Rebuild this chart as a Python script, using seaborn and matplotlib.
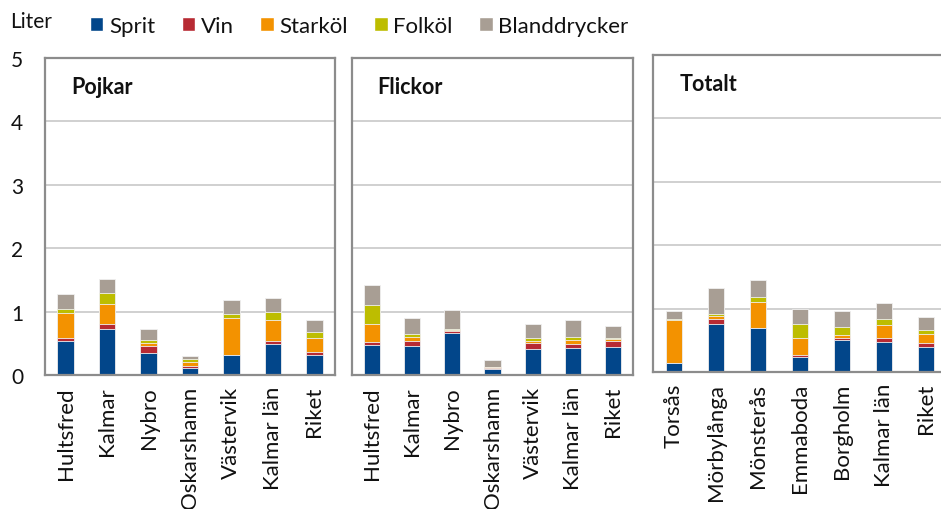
import numpy as np
import pandas as pd
import matplotlib
matplotlib.use("Agg")
import matplotlib.pyplot as plt
from matplotlib.patches import Patch
import seaborn as sns

# categories per panel
pojkar_orter = ["Hultsfred", "Kalmar", "Nybro", "Oskarshamn", "Västervik", "Kalmar län", "Riket"]
flickor_orter = ["Hultsfred", "Kalmar", "Nybro", "Oskarshamn", "Västervik", "Kalmar län", "Riket"]
totalt_orter = ["Torsås", "Mörbylånga", "Mönsterås", "Emmaboda", "Borgholm", "Kalmar län", "Riket"]

drycker = ["Sprit", "Vin", "Starköl", "Folköl", "Blanddrycker"]

# liter per drink type
pojkar_sprit = [0.54, 0.73, 0.34, 0.11, 0.31, 0.49, 0.32]
pojkar_vin = [0.04, 0.08, 0.11, 0.03, 0.01, 0.04, 0.04]
pojkar_stark = [0.40, 0.31, 0.06, 0.07, 0.58, 0.34, 0.23]
pojkar_folk = [0.06, 0.17, 0.04, 0.05, 0.06, 0.13, 0.09]
pojkar_bland = [0.23, 0.23, 0.17, 0.04, 0.23, 0.21, 0.18]

flickor_sprit = [0.48, 0.45, 0.66, 0.09, 0.41, 0.43, 0.44]
flickor_vin = [0.04, 0.08, 0.04, 0.02, 0.09, 0.06, 0.09]
flickor_stark = [0.29, 0.07, 0.01, 0.01, 0.04, 0.06, 0.03]
flickor_folk = [0.30, 0.04, 0.01, 0.00, 0.04, 0.05, 0.03]
flickor_bland = [0.31, 0.26, 0.30, 0.12, 0.23, 0.27, 0.19]

totalt_sprit = [0.14, 0.75, 0.69, 0.24, 0.51, 0.48, 0.40]
totalt_vin = [0.00, 0.08, 0.01, 0.03, 0.02, 0.05, 0.05]
totalt_stark = [0.68, 0.06, 0.41, 0.27, 0.05, 0.21, 0.15]
totalt_folk = [0.01, 0.03, 0.07, 0.21, 0.13, 0.09, 0.06]
totalt_bland = [0.14, 0.41, 0.27, 0.24, 0.26, 0.26, 0.21]

farger = ["#02468a", "#b72a33", "#f39200", "#bdbd00", "#a89e94"]

sns.set_style("white")
plt.rcParams['font.family'] = ['Lato', 'DejaVu Sans']
plt.rcParams['text.color'] = '#111111'

fig = plt.figure(figsize=(9.41, 5.1), dpi=100)
W, H = 941, 510


def panel(left, top, bottom, width, orter, serier, titel, ylabels, right=True):
    ax = fig.add_axes([left / W, (H - bottom) / H, width / W, (bottom - top) / H])
    df = pd.DataFrame(dict(zip(drycker, serier)), index=orter)
    cum = df.cumsum(axis=1)
    # draw tallest cumulative first so smaller ones overlay it
    for i in range(len(drycker) - 1, -1, -1):
        d = pd.DataFrame({"ort": orter, "v": cum[drycker[i]].values})
        sns.barplot(data=d, x="ort", y="v", color=farger[i], ax=ax, width=0.4,
                    saturation=1, edgecolor="#f0f0f0", linewidth=0.6, order=orter)
    ax.set_ylim(0, 5)
    ax.set_xlim(-0.5, 6.5)
    ax.set_yticks(range(6))
    for y in range(1, 5):
        ax.axhline(y, color="#c8c8c8", lw=1.2, zorder=0)
    ax.set_xlabel("")
    ax.set_ylabel("")
    ax.tick_params(axis="x", rotation=90, labelsize=16, length=0, pad=8,
                   labelcolor="#111111")
    ax.tick_params(axis="y", labelsize=15, length=0, pad=20, labelcolor="#111111")
    for lab in ax.get_yticklabels():
        lab.set_horizontalalignment("center")
    if not ylabels:
        ax.set_yticklabels([])
    for s in ax.spines.values():
        s.set_color("#8c8c8c")
        s.set_linewidth(1.6)
    ax.spines["right"].set_visible(right)
    ax.text(0.09, 0.91, titel, transform=ax.transAxes, fontsize=15.5,
            fontweight="bold", va="center", ha="left")
    return ax


panel(45, 59, 376, 290, pojkar_orter,
      [pojkar_sprit, pojkar_vin, pojkar_stark, pojkar_folk, pojkar_bland], "Pojkar", True)
panel(352, 59, 376, 281, flickor_orter,
      [flickor_sprit, flickor_vin, flickor_stark, flickor_folk, flickor_bland], "Flickor", False)
panel(653, 56, 373, 294, totalt_orter,
      [totalt_sprit, totalt_vin, totalt_stark, totalt_folk, totalt_bland], "Totalt", False,
      right=False)

fig.text(10 / W, 1 - 22 / H, "Liter", fontsize=15, va="center", ha="left")
handles = [Patch(facecolor=c, label=l) for c, l in zip(farger, drycker)]
fig.legend(handles=handles, loc="center left", bbox_to_anchor=(70 / W, 1 - 27 / H),
           ncol=5, frameon=False, fontsize=16, handlelength=0.6, handleheight=0.6,
           handletextpad=0.25, columnspacing=1.2)

fig.savefig("out.png", dpi=100)
